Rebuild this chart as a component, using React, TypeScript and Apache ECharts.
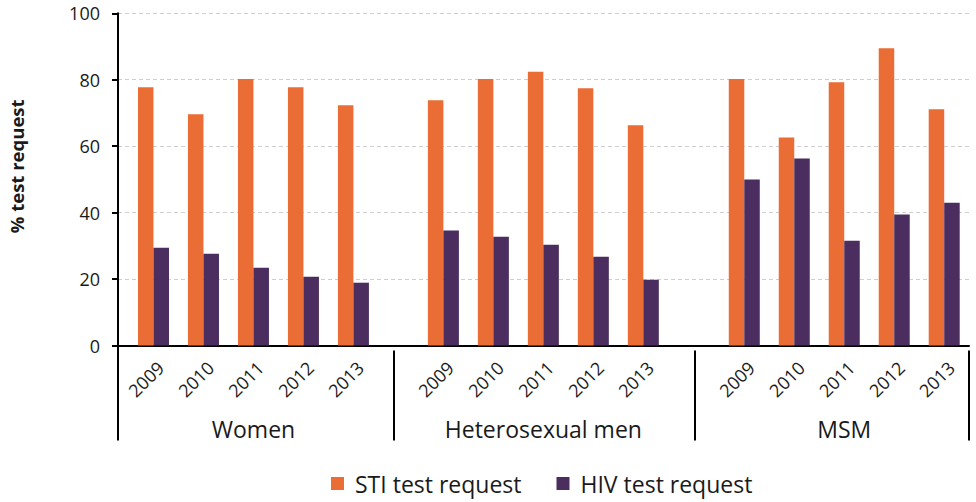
import React, { useEffect, useRef } from "react";
import * as echarts from "echarts";

// ---- data ----
const years = ["2009", "2010", "2011", "2012", "2013"];
const groups = ["Women", "Heterosexual men", "MSM"];
const stiWomen = [77.7, 69.6, 80.2, 77.7, 72.3];
const stiHetero = [73.8, 80.2, 82.4, 77.4, 66.3];
const stiMsm = [80.2, 62.6, 79.2, 89.5, 71.1];
const hivWomen = [29.4, 27.6, 23.4, 20.7, 18.9];
const hivHetero = [34.6, 32.7, 30.3, 26.7, 19.8];
const hivMsm = [50.0, 56.3, 31.5, 39.4, 43.0];
const yTicks = [0, 20, 40, 60, 80, 100];
const seriesNames = ["STI test request", "HIV test request"];

// ---- layout (axis units; one unit = one year slot) ----
const groupStart = [0, 5.8, 11.82];
const axisMin = -0.71;
const axisMax = 16.316;
const separators = [4.816, 10.83, axisMax];
const labelShift = 0.14;

const FONT = "'Open Sans', 'Noto Sans', sans-serif";
const TEXT = "#1a1a1a";

export default function App() {
  const ref = useRef<HTMLDivElement>(null);
  useEffect(() => {
    document.body.style.margin = "0";
    if (!ref.current) return;
    const chart = echarts.init(ref.current, null, { renderer: "svg" });

    const stiGroups = [stiWomen, stiHetero, stiMsm];
    const hivGroups = [hivWomen, hivHetero, hivMsm];
    const toPoints = (gs: number[][]) =>
      gs.flatMap((vals, g) => vals.map((v, i) => [groupStart[g] + i, v]));

    const yearLabelMap = new Map<string, string>();
    const yearLabelPos: number[] = [];
    groupStart.forEach((s) =>
      years.forEach((y, i) => {
        const p = s + i + labelShift;
        yearLabelPos.push(p);
        yearLabelMap.set(p.toFixed(3), y);
      })
    );
    const groupMap = new Map<string, string>();
    const groupPos: number[] = [];
    groupStart.forEach((s, g) => {
      const p = s + (years.length - 1) / 2;
      groupPos.push(p);
      groupMap.set(p.toFixed(3), groups[g]);
    });

    chart.setOption({
      animation: false,
      textStyle: { fontFamily: FONT },
      grid: {
        left: 118,
        right: 7,
        top: 13.25,
        bottom: 156.5,
        containLabel: false,
        outerBoundsMode: "none",
      },
      legend: {
        data: seriesNames,
        left: 331,
        top: 472,
        padding: 0,
        itemWidth: 13,
        itemHeight: 13,
        itemGap: 35,
        icon: "rect",
        textStyle: {
          fontFamily: FONT,
          fontSize: 23,
          color: TEXT,
          padding: [0, 0, 0, 6],
        },
      },
      xAxis: [
        {
          type: "value",
          min: axisMin,
          max: axisMax,
          position: "bottom",
          axisLine: { show: true, onZero: false, lineStyle: { color: "#000", width: 2 } },
          axisTick: {
            show: true,
            customValues: [axisMin],
            length: 95,
            lineStyle: { color: "#000", width: 2 },
          },
          splitLine: { show: false },
          axisLabel: {
            customValues: yearLabelPos,
            formatter: (v: number) => yearLabelMap.get(v.toFixed(3)) ?? "",
            rotate: 45,
            margin: 19,
            fontSize: 18,
            fontFamily: FONT,
            color: TEXT,
          },
        },
        {
          type: "value",
          min: axisMin,
          max: axisMax,
          position: "bottom",
          offset: 5,
          axisLine: { show: false, onZero: false },
          axisTick: {
            show: true,
            customValues: separators,
            length: 90,
            lineStyle: { color: "#000", width: 2 },
          },
          splitLine: { show: false },
          axisLabel: {
            customValues: groupPos,
            formatter: (v: number) => groupMap.get(v.toFixed(3)) ?? "",
            margin: 67,
            fontSize: 23,
            fontFamily: FONT,
            color: TEXT,
          },
        },
      ],
      yAxis: {
        type: "value",
        min: yTicks[0],
        max: yTicks[yTicks.length - 1],
        interval: yTicks[1] - yTicks[0],
        axisLine: { show: true, onZero: false, lineStyle: { color: "#000", width: 2 } },
        axisTick: { show: true, length: 6, lineStyle: { color: "#000", width: 2 } },
        axisLabel: { margin: 18, fontSize: 18, fontFamily: FONT, color: TEXT },
        splitLine: {
          show: true,
          lineStyle: { color: "#cfcfcf", width: 1, type: [4, 3] },
        },
        name: "% test request",
        nameLocation: "middle",
        nameGap: 92,
        nameTextStyle: {
          fontFamily: FONT,
          fontWeight: "bold",
          fontSize: 18.5,
          color: TEXT,
          padding: [0, 0, 0, 26],
        },
      },
      series: [
        {
          name: seriesNames[0],
          type: "bar",
          xAxisIndex: 0,
          data: toPoints(stiGroups),
          barWidth: 15.5,
          barGap: "0%",
          itemStyle: { color: "#E96D35" },
        },
        {
          name: seriesNames[1],
          type: "bar",
          xAxisIndex: 0,
          data: toPoints(hivGroups),
          barWidth: 15.5,
          barGap: "0%",
          itemStyle: { color: "#4B2D5F" },
        },
      ],
    });
    return () => chart.dispose();
  }, []);
  return <div ref={ref} style={{ width: 976, height: 502 }} />;
}
